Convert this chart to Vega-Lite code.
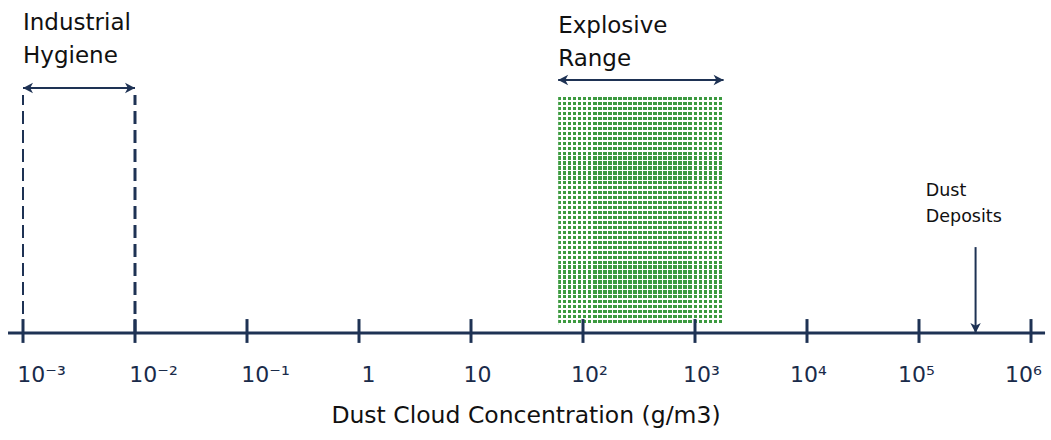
{
  "$schema": "https://vega.github.io/schema/vega-lite/v6.json",
  "width": 1051,
  "height": 440,
  "autosize": "none",
  "padding": 0,
  "background": "white",
  "config": {"view": {"stroke": null}},
  "datasets": {
    "band": [{"x": 60, "x2": 1800, "y": 0.034, "y2": 1.0}]
  },
  "encoding": {
    "x": {
      "field": "x",
      "type": "quantitative",
      "scale": {"type": "log", "domain": [0.0006232, 1508700], "nice": false},
      "axis": {
        "values": [0.001, 0.01, 0.1, 1, 10, 100, 1000, 10000, 100000, 1000000],
        "labelExpr": "datum.value < 0.005 ? '10⁻³' : datum.value < 0.05 ? '10⁻²' : datum.value < 0.5 ? '10⁻¹' : datum.value < 5 ? '1' : datum.value < 50 ? '10' : datum.value < 500 ? '10²' : datum.value < 5000 ? '10³' : datum.value < 50000 ? '10⁴' : datum.value < 500000 ? '10⁵' : '10⁶'",
        "offset": -107,
        "domain": false,
        "ticks": false,
        "grid": false,
        "labelPadding": 31,
        "labelOffset": {
          "condition": [
            {"test": "datum.value < 0.5", "value": 18},
            {"test": "datum.value < 5", "value": 9},
            {"test": "datum.value < 5000", "value": 6},
            {"test": "datum.value < 50000", "value": 1},
            {"test": "datum.value < 500000", "value": -3}
          ],
          "value": -8
        },
        "labelFont": "DejaVu Sans",
        "labelFontSize": 22,
        "labelColor": "#1a2b4a",
        "labelFlush": false,
        "labelOverlap": false,
        "labelBound": false,
        "title": "Dust Cloud Concentration (g/m3)",
        "titleFont": "DejaVu Sans",
        "titleFontSize": 23.5,
        "titleFontWeight": "normal",
        "titleColor": "#111111",
        "titlePadding": 18
      }
    },
    "y": {
      "field": "y",
      "type": "quantitative",
      "scale": {"domain": [-0.4534, 1.411], "nice": false, "zero": false},
      "axis": null
    }
  },
  "layer": [
    {
      "description": "explosive concentration band: green columns",
      "data": {"name": "band"},
      "mark": {
        "type": "rect",
        "color": {
          "gradient": "linear", "x1": 0, "y1": 0, "x2": 1, "y2": 0,
          "stops": [
            {"offset": 0, "color": "#3c9a40"}, {"offset": 0.0197, "color": "#3c9a40"}, {"offset": 0.0197, "color": "#ffffff"}, {"offset": 0.0303, "color": "#ffffff"},
            {"offset": 0.0303, "color": "#3c9a40"}, {"offset": 0.05, "color": "#3c9a40"}, {"offset": 0.05, "color": "#ffffff"}, {"offset": 0.0606, "color": "#ffffff"},
            {"offset": 0.0606, "color": "#3c9a40"}, {"offset": 0.0803, "color": "#3c9a40"}, {"offset": 0.0803, "color": "#ffffff"}, {"offset": 0.0909, "color": "#ffffff"},
            {"offset": 0.0909, "color": "#3c9a40"}, {"offset": 0.1106, "color": "#3c9a40"}, {"offset": 0.1106, "color": "#ffffff"}, {"offset": 0.1212, "color": "#ffffff"},
            {"offset": 0.1212, "color": "#3c9a40"}, {"offset": 0.1409, "color": "#3c9a40"}, {"offset": 0.1409, "color": "#ffffff"}, {"offset": 0.1515, "color": "#ffffff"},
            {"offset": 0.1515, "color": "#3c9a40"}, {"offset": 0.1712, "color": "#3c9a40"}, {"offset": 0.1712, "color": "#ffffff"}, {"offset": 0.1818, "color": "#ffffff"},
            {"offset": 0.1818, "color": "#3c9a40"}, {"offset": 0.2015, "color": "#3c9a40"}, {"offset": 0.2015, "color": "#ffffff"}, {"offset": 0.2121, "color": "#ffffff"},
            {"offset": 0.2121, "color": "#3c9a40"}, {"offset": 0.2318, "color": "#3c9a40"}, {"offset": 0.2318, "color": "#ffffff"}, {"offset": 0.2424, "color": "#ffffff"},
            {"offset": 0.2424, "color": "#3c9a40"}, {"offset": 0.2621, "color": "#3c9a40"}, {"offset": 0.2621, "color": "#ffffff"}, {"offset": 0.2727, "color": "#ffffff"},
            {"offset": 0.2727, "color": "#3c9a40"}, {"offset": 0.2924, "color": "#3c9a40"}, {"offset": 0.2924, "color": "#ffffff"}, {"offset": 0.303, "color": "#ffffff"},
            {"offset": 0.303, "color": "#3c9a40"}, {"offset": 0.3227, "color": "#3c9a40"}, {"offset": 0.3227, "color": "#ffffff"}, {"offset": 0.3333, "color": "#ffffff"},
            {"offset": 0.3333, "color": "#3c9a40"}, {"offset": 0.353, "color": "#3c9a40"}, {"offset": 0.353, "color": "#ffffff"}, {"offset": 0.3636, "color": "#ffffff"},
            {"offset": 0.3636, "color": "#3c9a40"}, {"offset": 0.3833, "color": "#3c9a40"}, {"offset": 0.3833, "color": "#ffffff"}, {"offset": 0.3939, "color": "#ffffff"},
            {"offset": 0.3939, "color": "#3c9a40"}, {"offset": 0.4136, "color": "#3c9a40"}, {"offset": 0.4136, "color": "#ffffff"}, {"offset": 0.4242, "color": "#ffffff"},
            {"offset": 0.4242, "color": "#3c9a40"}, {"offset": 0.4439, "color": "#3c9a40"}, {"offset": 0.4439, "color": "#ffffff"}, {"offset": 0.4545, "color": "#ffffff"},
            {"offset": 0.4545, "color": "#3c9a40"}, {"offset": 0.4742, "color": "#3c9a40"}, {"offset": 0.4742, "color": "#ffffff"}, {"offset": 0.4848, "color": "#ffffff"},
            {"offset": 0.4848, "color": "#3c9a40"}, {"offset": 0.5045, "color": "#3c9a40"}, {"offset": 0.5045, "color": "#ffffff"}, {"offset": 0.5152, "color": "#ffffff"},
            {"offset": 0.5152, "color": "#3c9a40"}, {"offset": 0.5348, "color": "#3c9a40"}, {"offset": 0.5348, "color": "#ffffff"}, {"offset": 0.5455, "color": "#ffffff"},
            {"offset": 0.5455, "color": "#3c9a40"}, {"offset": 0.5652, "color": "#3c9a40"}, {"offset": 0.5652, "color": "#ffffff"}, {"offset": 0.5758, "color": "#ffffff"},
            {"offset": 0.5758, "color": "#3c9a40"}, {"offset": 0.5955, "color": "#3c9a40"}, {"offset": 0.5955, "color": "#ffffff"}, {"offset": 0.6061, "color": "#ffffff"},
            {"offset": 0.6061, "color": "#3c9a40"}, {"offset": 0.6258, "color": "#3c9a40"}, {"offset": 0.6258, "color": "#ffffff"}, {"offset": 0.6364, "color": "#ffffff"},
            {"offset": 0.6364, "color": "#3c9a40"}, {"offset": 0.6561, "color": "#3c9a40"}, {"offset": 0.6561, "color": "#ffffff"}, {"offset": 0.6667, "color": "#ffffff"},
            {"offset": 0.6667, "color": "#3c9a40"}, {"offset": 0.6864, "color": "#3c9a40"}, {"offset": 0.6864, "color": "#ffffff"}, {"offset": 0.697, "color": "#ffffff"},
            {"offset": 0.697, "color": "#3c9a40"}, {"offset": 0.7167, "color": "#3c9a40"}, {"offset": 0.7167, "color": "#ffffff"}, {"offset": 0.7273, "color": "#ffffff"},
            {"offset": 0.7273, "color": "#3c9a40"}, {"offset": 0.747, "color": "#3c9a40"}, {"offset": 0.747, "color": "#ffffff"}, {"offset": 0.7576, "color": "#ffffff"},
            {"offset": 0.7576, "color": "#3c9a40"}, {"offset": 0.7773, "color": "#3c9a40"}, {"offset": 0.7773, "color": "#ffffff"}, {"offset": 0.7879, "color": "#ffffff"},
            {"offset": 0.7879, "color": "#3c9a40"}, {"offset": 0.8076, "color": "#3c9a40"}, {"offset": 0.8076, "color": "#ffffff"}, {"offset": 0.8182, "color": "#ffffff"},
            {"offset": 0.8182, "color": "#3c9a40"}, {"offset": 0.8379, "color": "#3c9a40"}, {"offset": 0.8379, "color": "#ffffff"}, {"offset": 0.8485, "color": "#ffffff"},
            {"offset": 0.8485, "color": "#3c9a40"}, {"offset": 0.8682, "color": "#3c9a40"}, {"offset": 0.8682, "color": "#ffffff"}, {"offset": 0.8788, "color": "#ffffff"},
            {"offset": 0.8788, "color": "#3c9a40"}, {"offset": 0.8985, "color": "#3c9a40"}, {"offset": 0.8985, "color": "#ffffff"}, {"offset": 0.9091, "color": "#ffffff"},
            {"offset": 0.9091, "color": "#3c9a40"}, {"offset": 0.9288, "color": "#3c9a40"}, {"offset": 0.9288, "color": "#ffffff"}, {"offset": 0.9394, "color": "#ffffff"},
            {"offset": 0.9394, "color": "#3c9a40"}, {"offset": 0.9591, "color": "#3c9a40"}, {"offset": 0.9591, "color": "#ffffff"}, {"offset": 0.9697, "color": "#ffffff"},
            {"offset": 0.9697, "color": "#3c9a40"}, {"offset": 0.9894, "color": "#3c9a40"}, {"offset": 0.9894, "color": "#ffffff"}, {"offset": 1, "color": "#ffffff"}
          ]
        }
      },
      "encoding": {"x2": {"field": "x2"}, "y2": {"field": "y2"}}
    },
    {
      "description": "explosive concentration band: white rows that break the columns into dots",
      "data": {"name": "band"},
      "mark": {
        "type": "rect",
        "color": {
          "gradient": "linear", "x1": 0, "y1": 0, "x2": 0, "y2": 1,
          "stops": [
            {"offset": 0, "color": "rgba(255,255,255,0)"}, {"offset": 0.0141, "color": "rgba(255,255,255,0)"}, {"offset": 0.0141, "color": "#ffffff"}, {"offset": 0.0217, "color": "#ffffff"},
            {"offset": 0.0217, "color": "rgba(255,255,255,0)"}, {"offset": 0.0359, "color": "rgba(255,255,255,0)"}, {"offset": 0.0359, "color": "#ffffff"}, {"offset": 0.0435, "color": "#ffffff"},
            {"offset": 0.0435, "color": "rgba(255,255,255,0)"}, {"offset": 0.0576, "color": "rgba(255,255,255,0)"}, {"offset": 0.0576, "color": "#ffffff"}, {"offset": 0.0652, "color": "#ffffff"},
            {"offset": 0.0652, "color": "rgba(255,255,255,0)"}, {"offset": 0.0793, "color": "rgba(255,255,255,0)"}, {"offset": 0.0793, "color": "#ffffff"}, {"offset": 0.087, "color": "#ffffff"},
            {"offset": 0.087, "color": "rgba(255,255,255,0)"}, {"offset": 0.1011, "color": "rgba(255,255,255,0)"}, {"offset": 0.1011, "color": "#ffffff"}, {"offset": 0.1087, "color": "#ffffff"},
            {"offset": 0.1087, "color": "rgba(255,255,255,0)"}, {"offset": 0.1228, "color": "rgba(255,255,255,0)"}, {"offset": 0.1228, "color": "#ffffff"}, {"offset": 0.1304, "color": "#ffffff"},
            {"offset": 0.1304, "color": "rgba(255,255,255,0)"}, {"offset": 0.1446, "color": "rgba(255,255,255,0)"}, {"offset": 0.1446, "color": "#ffffff"}, {"offset": 0.1522, "color": "#ffffff"},
            {"offset": 0.1522, "color": "rgba(255,255,255,0)"}, {"offset": 0.1663, "color": "rgba(255,255,255,0)"}, {"offset": 0.1663, "color": "#ffffff"}, {"offset": 0.1739, "color": "#ffffff"},
            {"offset": 0.1739, "color": "rgba(255,255,255,0)"}, {"offset": 0.188, "color": "rgba(255,255,255,0)"}, {"offset": 0.188, "color": "#ffffff"}, {"offset": 0.1957, "color": "#ffffff"},
            {"offset": 0.1957, "color": "rgba(255,255,255,0)"}, {"offset": 0.2098, "color": "rgba(255,255,255,0)"}, {"offset": 0.2098, "color": "#ffffff"}, {"offset": 0.2174, "color": "#ffffff"},
            {"offset": 0.2174, "color": "rgba(255,255,255,0)"}, {"offset": 0.2315, "color": "rgba(255,255,255,0)"}, {"offset": 0.2315, "color": "#ffffff"}, {"offset": 0.2391, "color": "#ffffff"},
            {"offset": 0.2391, "color": "rgba(255,255,255,0)"}, {"offset": 0.2533, "color": "rgba(255,255,255,0)"}, {"offset": 0.2533, "color": "#ffffff"}, {"offset": 0.2609, "color": "#ffffff"},
            {"offset": 0.2609, "color": "rgba(255,255,255,0)"}, {"offset": 0.275, "color": "rgba(255,255,255,0)"}, {"offset": 0.275, "color": "#ffffff"}, {"offset": 0.2826, "color": "#ffffff"},
            {"offset": 0.2826, "color": "rgba(255,255,255,0)"}, {"offset": 0.2967, "color": "rgba(255,255,255,0)"}, {"offset": 0.2967, "color": "#ffffff"}, {"offset": 0.3043, "color": "#ffffff"},
            {"offset": 0.3043, "color": "rgba(255,255,255,0)"}, {"offset": 0.3185, "color": "rgba(255,255,255,0)"}, {"offset": 0.3185, "color": "#ffffff"}, {"offset": 0.3261, "color": "#ffffff"},
            {"offset": 0.3261, "color": "rgba(255,255,255,0)"}, {"offset": 0.3402, "color": "rgba(255,255,255,0)"}, {"offset": 0.3402, "color": "#ffffff"}, {"offset": 0.3478, "color": "#ffffff"},
            {"offset": 0.3478, "color": "rgba(255,255,255,0)"}, {"offset": 0.362, "color": "rgba(255,255,255,0)"}, {"offset": 0.362, "color": "#ffffff"}, {"offset": 0.3696, "color": "#ffffff"},
            {"offset": 0.3696, "color": "rgba(255,255,255,0)"}, {"offset": 0.3837, "color": "rgba(255,255,255,0)"}, {"offset": 0.3837, "color": "#ffffff"}, {"offset": 0.3913, "color": "#ffffff"},
            {"offset": 0.3913, "color": "rgba(255,255,255,0)"}, {"offset": 0.4054, "color": "rgba(255,255,255,0)"}, {"offset": 0.4054, "color": "#ffffff"}, {"offset": 0.413, "color": "#ffffff"},
            {"offset": 0.413, "color": "rgba(255,255,255,0)"}, {"offset": 0.4272, "color": "rgba(255,255,255,0)"}, {"offset": 0.4272, "color": "#ffffff"}, {"offset": 0.4348, "color": "#ffffff"},
            {"offset": 0.4348, "color": "rgba(255,255,255,0)"}, {"offset": 0.4489, "color": "rgba(255,255,255,0)"}, {"offset": 0.4489, "color": "#ffffff"}, {"offset": 0.4565, "color": "#ffffff"},
            {"offset": 0.4565, "color": "rgba(255,255,255,0)"}, {"offset": 0.4707, "color": "rgba(255,255,255,0)"}, {"offset": 0.4707, "color": "#ffffff"}, {"offset": 0.4783, "color": "#ffffff"},
            {"offset": 0.4783, "color": "rgba(255,255,255,0)"}, {"offset": 0.4924, "color": "rgba(255,255,255,0)"}, {"offset": 0.4924, "color": "#ffffff"}, {"offset": 0.5, "color": "#ffffff"},
            {"offset": 0.5, "color": "rgba(255,255,255,0)"}, {"offset": 0.5141, "color": "rgba(255,255,255,0)"}, {"offset": 0.5141, "color": "#ffffff"}, {"offset": 0.5217, "color": "#ffffff"},
            {"offset": 0.5217, "color": "rgba(255,255,255,0)"}, {"offset": 0.5359, "color": "rgba(255,255,255,0)"}, {"offset": 0.5359, "color": "#ffffff"}, {"offset": 0.5435, "color": "#ffffff"},
            {"offset": 0.5435, "color": "rgba(255,255,255,0)"}, {"offset": 0.5576, "color": "rgba(255,255,255,0)"}, {"offset": 0.5576, "color": "#ffffff"}, {"offset": 0.5652, "color": "#ffffff"},
            {"offset": 0.5652, "color": "rgba(255,255,255,0)"}, {"offset": 0.5793, "color": "rgba(255,255,255,0)"}, {"offset": 0.5793, "color": "#ffffff"}, {"offset": 0.587, "color": "#ffffff"},
            {"offset": 0.587, "color": "rgba(255,255,255,0)"}, {"offset": 0.6011, "color": "rgba(255,255,255,0)"}, {"offset": 0.6011, "color": "#ffffff"}, {"offset": 0.6087, "color": "#ffffff"},
            {"offset": 0.6087, "color": "rgba(255,255,255,0)"}, {"offset": 0.6228, "color": "rgba(255,255,255,0)"}, {"offset": 0.6228, "color": "#ffffff"}, {"offset": 0.6304, "color": "#ffffff"},
            {"offset": 0.6304, "color": "rgba(255,255,255,0)"}, {"offset": 0.6446, "color": "rgba(255,255,255,0)"}, {"offset": 0.6446, "color": "#ffffff"}, {"offset": 0.6522, "color": "#ffffff"},
            {"offset": 0.6522, "color": "rgba(255,255,255,0)"}, {"offset": 0.6663, "color": "rgba(255,255,255,0)"}, {"offset": 0.6663, "color": "#ffffff"}, {"offset": 0.6739, "color": "#ffffff"},
            {"offset": 0.6739, "color": "rgba(255,255,255,0)"}, {"offset": 0.688, "color": "rgba(255,255,255,0)"}, {"offset": 0.688, "color": "#ffffff"}, {"offset": 0.6957, "color": "#ffffff"},
            {"offset": 0.6957, "color": "rgba(255,255,255,0)"}, {"offset": 0.7098, "color": "rgba(255,255,255,0)"}, {"offset": 0.7098, "color": "#ffffff"}, {"offset": 0.7174, "color": "#ffffff"},
            {"offset": 0.7174, "color": "rgba(255,255,255,0)"}, {"offset": 0.7315, "color": "rgba(255,255,255,0)"}, {"offset": 0.7315, "color": "#ffffff"}, {"offset": 0.7391, "color": "#ffffff"},
            {"offset": 0.7391, "color": "rgba(255,255,255,0)"}, {"offset": 0.7533, "color": "rgba(255,255,255,0)"}, {"offset": 0.7533, "color": "#ffffff"}, {"offset": 0.7609, "color": "#ffffff"},
            {"offset": 0.7609, "color": "rgba(255,255,255,0)"}, {"offset": 0.775, "color": "rgba(255,255,255,0)"}, {"offset": 0.775, "color": "#ffffff"}, {"offset": 0.7826, "color": "#ffffff"},
            {"offset": 0.7826, "color": "rgba(255,255,255,0)"}, {"offset": 0.7967, "color": "rgba(255,255,255,0)"}, {"offset": 0.7967, "color": "#ffffff"}, {"offset": 0.8043, "color": "#ffffff"},
            {"offset": 0.8043, "color": "rgba(255,255,255,0)"}, {"offset": 0.8185, "color": "rgba(255,255,255,0)"}, {"offset": 0.8185, "color": "#ffffff"}, {"offset": 0.8261, "color": "#ffffff"},
            {"offset": 0.8261, "color": "rgba(255,255,255,0)"}, {"offset": 0.8402, "color": "rgba(255,255,255,0)"}, {"offset": 0.8402, "color": "#ffffff"}, {"offset": 0.8478, "color": "#ffffff"},
            {"offset": 0.8478, "color": "rgba(255,255,255,0)"}, {"offset": 0.862, "color": "rgba(255,255,255,0)"}, {"offset": 0.862, "color": "#ffffff"}, {"offset": 0.8696, "color": "#ffffff"},
            {"offset": 0.8696, "color": "rgba(255,255,255,0)"}, {"offset": 0.8837, "color": "rgba(255,255,255,0)"}, {"offset": 0.8837, "color": "#ffffff"}, {"offset": 0.8913, "color": "#ffffff"},
            {"offset": 0.8913, "color": "rgba(255,255,255,0)"}, {"offset": 0.9054, "color": "rgba(255,255,255,0)"}, {"offset": 0.9054, "color": "#ffffff"}, {"offset": 0.913, "color": "#ffffff"},
            {"offset": 0.913, "color": "rgba(255,255,255,0)"}, {"offset": 0.9272, "color": "rgba(255,255,255,0)"}, {"offset": 0.9272, "color": "#ffffff"}, {"offset": 0.9348, "color": "#ffffff"},
            {"offset": 0.9348, "color": "rgba(255,255,255,0)"}, {"offset": 0.9489, "color": "rgba(255,255,255,0)"}, {"offset": 0.9489, "color": "#ffffff"}, {"offset": 0.9565, "color": "#ffffff"},
            {"offset": 0.9565, "color": "rgba(255,255,255,0)"}, {"offset": 0.9707, "color": "rgba(255,255,255,0)"}, {"offset": 0.9707, "color": "#ffffff"}, {"offset": 0.9783, "color": "#ffffff"},
            {"offset": 0.9783, "color": "rgba(255,255,255,0)"}, {"offset": 0.9924, "color": "rgba(255,255,255,0)"}, {"offset": 0.9924, "color": "#ffffff"}, {"offset": 1, "color": "#ffffff"}
          ]
        }
      },
      "encoding": {"x2": {"field": "x2"}, "y2": {"field": "y2"}}
    },
    {
      "description": "industrial hygiene limits",
      "data": {"values": [{"x": 0.001, "y": 0, "y2": 1.008}, {"x": 0.01, "y": 0, "y2": 1.008}]},
      "mark": {"type": "rule", "color": "#1e3254", "strokeDash": [13, 6]},
      "encoding": {
        "y2": {"field": "y2"},
        "strokeWidth": {"condition": {"test": "datum.x > 0.005", "value": 3}, "value": 2}
      }
    },
    {
      "description": "concentration axis line",
      "data": {"values": [{"x": 0.000735, "x2": 1335000, "y": 0}]},
      "mark": {"type": "rule", "color": "#1e3254", "strokeWidth": 3},
      "encoding": {"x2": {"field": "x2"}}
    },
    {
      "description": "decade ticks crossing the axis",
      "data": {"values": [
        {"x": 0.001, "y": -0.042, "y2": 0.059},
        {"x": 0.01, "y": -0.042, "y2": 0.059},
        {"x": 0.1, "y": -0.042, "y2": 0.059},
        {"x": 1, "y": -0.042, "y2": 0.059},
        {"x": 10, "y": -0.042, "y2": 0.059},
        {"x": 100, "y": -0.042, "y2": 0.059},
        {"x": 1000, "y": -0.042, "y2": 0.059},
        {"x": 10000, "y": -0.042, "y2": 0.059},
        {"x": 100000, "y": -0.042, "y2": 0.059},
        {"x": 1000000, "y": -0.042, "y2": 0.059}
      ]},
      "mark": {"type": "rule", "color": "#1e3254", "strokeWidth": 3},
      "encoding": {"y2": {"field": "y2"}}
    },
    {
      "description": "range arrows",
      "data": {"values": [
        {"x": 0.001, "x2": 0.01, "y": 1.038},
        {"x": 60, "x2": 1800, "y": 1.072}
      ]},
      "mark": {"type": "rule", "color": "#1e3254", "strokeWidth": 2},
      "encoding": {"x2": {"field": "x2"}}
    },
    {
      "description": "dust deposit arrow",
      "data": {"values": [{"x": 320000, "y": 0, "y2": 0.364}]},
      "mark": {"type": "rule", "color": "#1e3254", "strokeWidth": 2},
      "encoding": {"y2": {"field": "y2"}}
    },
    {
      "description": "arrow heads",
      "data": {"values": [
        {"x": 0.001, "y": 1.038, "dir": "left"},
        {"x": 0.01, "y": 1.038, "dir": "right"},
        {"x": 60, "y": 1.072, "dir": "left"},
        {"x": 1800, "y": 1.072, "dir": "right"},
        {"x": 320000, "y": 0, "dir": "down"}
      ]},
      "mark": {"type": "point", "filled": true, "opacity": 1, "color": "#1e3254", "size": 64},
      "encoding": {
        "shape": {
          "field": "dir",
          "type": "nominal",
          "scale": {
            "domain": ["left", "right", "down"],
            "range": [
              "M0,0 L2.5,-1.3 L1.8,0 L2.5,1.3 Z",
              "M0,0 L-2.5,-1.3 L-1.8,0 L-2.5,1.3 Z",
              "M0,0 L-1.3,-2.5 L0,-1.8 L1.3,-2.5 Z"
            ]
          },
          "legend": null
        }
      }
    },
    {
      "description": "range captions",
      "data": {"values": [
        {"x": 0.001, "y": 1.284, "note": "Industrial"},
        {"x": 0.001, "y": 1.144, "note": "Hygiene"},
        {"x": 60, "y": 1.271, "note": "Explosive"},
        {"x": 60, "y": 1.131, "note": "Range"}
      ]},
      "mark": {"type": "text", "align": "left", "baseline": "alphabetic", "font": "DejaVu Sans", "fontSize": 23, "color": "#111111"},
      "encoding": {"text": {"field": "note"}}
    },
    {
      "description": "deposit caption",
      "data": {"values": [
        {"x": 115000, "y": 0.581, "note": "Dust"},
        {"x": 115000, "y": 0.47, "note": "Deposits"}
      ]},
      "mark": {"type": "text", "align": "left", "baseline": "alphabetic", "font": "DejaVu Sans", "fontSize": 17.5, "color": "#111111"},
      "encoding": {"text": {"field": "note"}}
    }
  ]
}
